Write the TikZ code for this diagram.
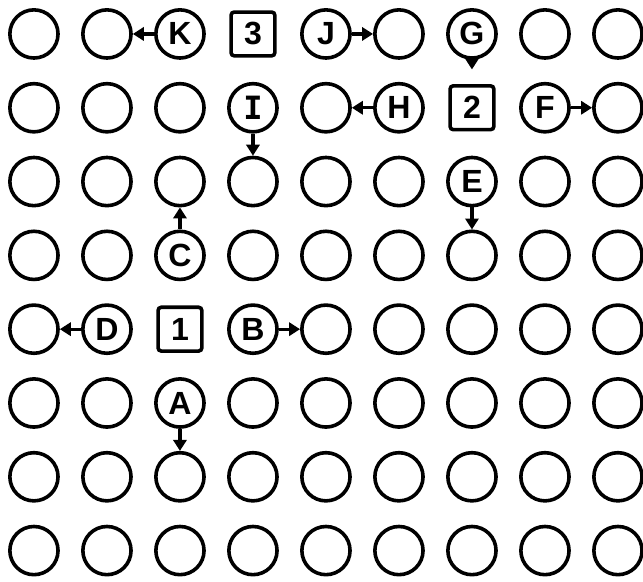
\documentclass[tikz,border=0pt]{standalone}
\usepackage{fontspec}
\setsansfont{Liberation Sans}
\newfontfamily\serifI{DejaVu Sans Mono}
\usetikzlibrary{arrows.meta}

\tikzset{
  cell/.style={circle,draw,line width=2.8pt,minimum size=1.32cm,inner sep=0pt},
  numbox/.style={rectangle,draw,line width=2.8pt,rounded corners=2.5pt,minimum size=1.2cm,inner sep=0pt},
  move/.style={line width=2.6pt,-{Triangle[length=3mm,width=3.6mm]}}
}

\begin{document}
\begin{tikzpicture}[font=\sffamily\bfseries\fontsize{25}{25}\selectfont]
  \useasboundingbox (0,0) rectangle (17.616,-15.918);
  \foreach \c in {1,...,9}
    \foreach \r in {1,...,8}
      \coordinate (p-\c-\r) at ({0.93+2*(\c-1)},{-0.93-2.022*(\r-1)});
  \foreach \c in {1,...,9}
    \foreach \r in {1,...,8}{
      \pgfmathtruncatemacro\isbox{(\c==4 && \r==1) || (\c==7 && \r==2) || (\c==3 && \r==5)}
      \ifnum\isbox=0 \node[cell] (n-\c-\r) at (p-\c-\r) {};\fi
    }
  \node[numbox] (n-4-1) at (p-4-1) {3};
  \node[numbox] (n-7-2) at (p-7-2) {2};
  \node[numbox] (n-3-5) at (p-3-5) {1};
  \node (K) at (n-3-1) {K};
  \node (J) at (n-5-1) {J};
  \node (G) at (n-7-1) {G};
  \node (I) at (n-4-2) {\serifI\bfseries I};
  \node (H) at (n-6-2) {H};
  \node (F) at (n-8-2) {F};
  \node (E) at (n-7-3) {E};
  \node (C) at (n-3-4) {C};
  \node (D) at (n-2-5) {D};
  \node (B) at (n-4-5) {B};
  \node (A) at (n-3-6) {A};
  \draw[move] (n-3-1) -- (n-2-1);
  \draw[move] (n-5-1) -- (n-6-1);
  \draw[move,shorten >=0.4cm] (n-7-1) -- (n-7-2);
  \draw[move] (n-4-2) -- (n-4-3);
  \draw[move] (n-6-2) -- (n-5-2);
  \draw[move] (n-8-2) -- (n-9-2);
  \draw[move] (n-7-3) -- (n-7-4);
  \draw[move] (n-3-4) -- (n-3-3);
  \draw[move] (n-2-5) -- (n-1-5);
  \draw[move] (n-4-5) -- (n-5-5);
  \draw[move] (n-3-6) -- (n-3-7);
\end{tikzpicture}
\end{document}
